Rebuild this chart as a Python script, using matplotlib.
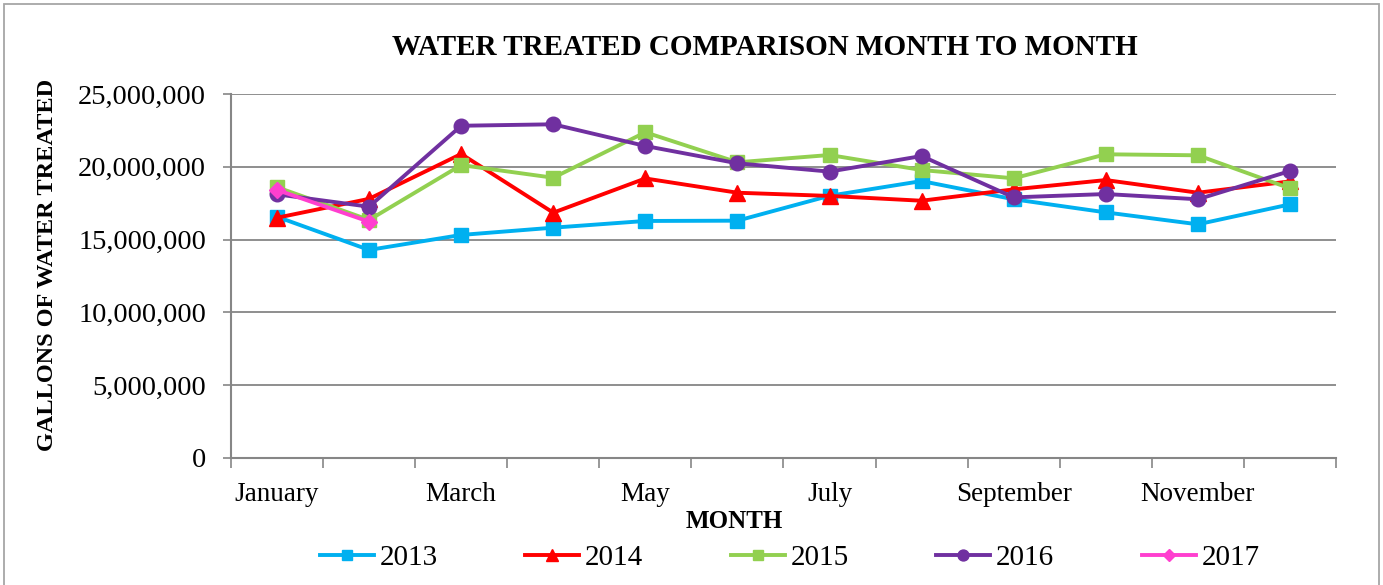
import matplotlib.pyplot as plt
from matplotlib.patches import Rectangle
from matplotlib.ticker import FuncFormatter, FixedLocator

plt.rcParams['font.family'] = ['Liberation Serif', 'DejaVu Serif']

months = ['January', 'February', 'March', 'April', 'May', 'June', 'July',
          'August', 'September', 'October', 'November', 'December']

# gallons treated per month
y2013 = [16570000, 14290000, 15320000, 15820000, 16280000, 16300000,
         18010000, 19020000, 17770000, 16870000, 16050000, 17420000]
y2014 = [16500000, 17800000, 20880000, 16850000, 19200000, 18220000,
         18000000, 17670000, 18450000, 19090000, 18220000, 19000000]
y2015 = [18600000, 16350000, 20120000, 19250000, 22370000, 20310000,
         20810000, 19780000, 19210000, 20860000, 20790000, 18520000]
y2016 = [18110000, 17260000, 22820000, 22920000, 21430000, 20240000,
         19670000, 20740000, 17900000, 18130000, 17770000, 19710000]
y2017 = [18410000, 16230000]

series = [
    ('2013', y2013, '#00B0F0', 's', 10.5),
    ('2014', y2014, '#FF0000', '^', 11),
    ('2015', y2015, '#92D050', 's', 10.5),
    ('2016', y2016, '#7030A0', 'o', 10.5),
    ('2017', y2017, '#FF3FCF', 'D', 8),
]

fig = plt.figure(figsize=(13.83, 5.85), dpi=100)
ax = fig.add_axes([0.167, 0.2171, 0.799, 0.6222])

for name, vals, col, mk, ms in series:
    ax.plot(range(len(vals)), vals, color=col, marker=mk, markersize=ms,
            linewidth=2.8, label=name, solid_joinstyle='round')

ax.set_xlim(-0.5, 11.5)
ax.set_ylim(0, 25000000)
ax.set_yticks(range(0, 25000001, 5000000))
ax.yaxis.set_major_formatter(FuncFormatter(lambda v, p: f'{int(v):,}'))
ax.grid(axis='y', color='#868686', linewidth=1.3)
ax.set_axisbelow(True)

# tick marks between months, labels on every other month
ax.xaxis.set_major_locator(FixedLocator([i - 0.5 for i in range(13)]))
ax.xaxis.set_minor_locator(FixedLocator(range(0, 12, 2)))
ax.set_xticklabels([], minor=False)
ax.set_xticklabels(months[::2], minor=True)
ax.tick_params(axis='x', which='major', length=7, width=1.2, color='#868686', direction='out')
ax.tick_params(axis='x', which='minor', length=0, pad=17, labelsize=19.5)
ax.tick_params(axis='y', length=6, width=1.2, color='#868686', labelsize=20.5, pad=12)

for s in ['top', 'right']:
    ax.spines[s].set_visible(False)
for s in ['left', 'bottom']:
    ax.spines[s].set_color('#868686')
    ax.spines[s].set_linewidth(1.5)

fig.text(0.553, 0.918, 'WATER TREATED COMPARISON MONTH TO MONTH', ha='center', va='center',
         fontsize=21, fontweight='bold')
fig.text(0.034, 0.547, 'GALLONS OF WATER TREATED', ha='center', va='center', rotation=90,
         fontsize=17.5, fontweight='bold')
fig.text(0.531, 0.108, 'MONTH', ha='center', va='center', fontsize=18, fontweight='bold')

fig.legend(loc='center', bbox_to_anchor=(0.571, 0.046), ncol=5, frameon=False,
           fontsize=21, handlelength=1.85, handletextpad=0.2, columnspacing=3.0,
           markerscale=0.75)

fig.patches.append(Rectangle((0.003, -0.01), 0.994, 1.003, transform=fig.transFigure,
                             fill=False, edgecolor='#A6A6A6', linewidth=1.3))

fig.savefig('out.png', dpi=100)
